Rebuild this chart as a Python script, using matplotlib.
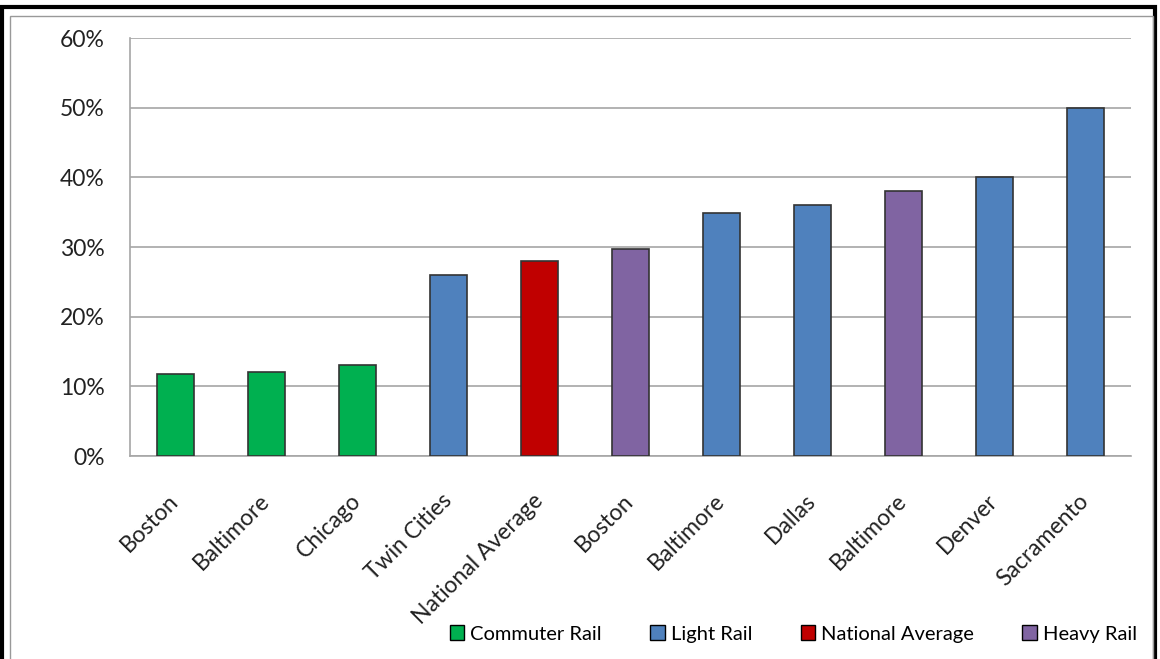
import matplotlib.pyplot as plt
from matplotlib.patches import Patch, Rectangle

cities = ["Boston", "Baltimore", "Chicago", "Twin Cities", "National Average", "Boston",
          "Baltimore", "Dallas", "Baltimore", "Denver", "Sacramento"]
values = [11.8, 12.0, 13.1, 26.0, 28.0, 29.7, 34.9, 36.1, 38.1, 40.0, 50.0]
modes = ["commuter", "commuter", "commuter", "light", "national", "heavy",
         "light", "light", "heavy", "light", "light"]

mode_names = {"commuter": "Commuter Rail", "light": "Light Rail",
              "national": "National Average", "heavy": "Heavy Rail"}
mode_colors = {"commuter": "#00B050", "light": "#4F81BD",
               "national": "#C00000", "heavy": "#8064A2"}

plt.rcParams['font.family'] = ['Lato', 'DejaVu Sans']

fig = plt.figure(figsize=(11.6, 6.59), dpi=100)
ax = fig.add_axes([0.112, 0.308, 0.863, 0.634])

x = list(range(len(cities)))
ax.bar(x, values, width=0.4, color=[mode_colors[m] for m in modes],
       edgecolor="#333333", linewidth=1.2, zorder=3)

ax.set_xlim(-0.5, len(cities) - 0.5)
ax.set_ylim(0, 60)
ax.set_yticks(range(0, 61, 10))
ax.set_yticklabels([f"{v}%" for v in range(0, 61, 10)], fontsize=16.5, color="#222222")
ax.set_xticks(x)
ax.set_xticklabels(cities, rotation=45, ha="right", va="center",
                   rotation_mode="anchor", fontsize=16.5, color="#222222")
ax.tick_params(axis="both", length=0)
ax.tick_params(axis="y", pad=18)
ax.tick_params(axis="x", pad=30)
ax.yaxis.grid(True, color="#a6a6a6", linewidth=1.2, zorder=0)
for s in ["top", "right"]:
    ax.spines[s].set_visible(False)
for s in ["left", "bottom"]:
    ax.spines[s].set_color("#a6a6a6")
    ax.spines[s].set_linewidth(1.2)

handles = [Patch(facecolor=mode_colors[k], edgecolor="black", label=mode_names[k])
           for k in ["commuter", "light", "national", "heavy"]]
fig.legend(handles=handles, loc="center", bbox_to_anchor=(0.684, 0.038), ncol=4,
           frameon=False, fontsize=14.5, handlelength=0.72, handleheight=0.72,
           handletextpad=0.3, columnspacing=2.4)

# border around the chart
fig.patches.append(Rectangle((0.002, -0.01), 0.994, 1.0, transform=fig.transFigure,
                             fill=False, edgecolor="black", linewidth=3))
fig.patches.append(Rectangle((0.009, -0.01), 0.985, 0.985, transform=fig.transFigure,
                             fill=False, edgecolor="#999999", linewidth=1))

fig.savefig("out.png", dpi=100)
